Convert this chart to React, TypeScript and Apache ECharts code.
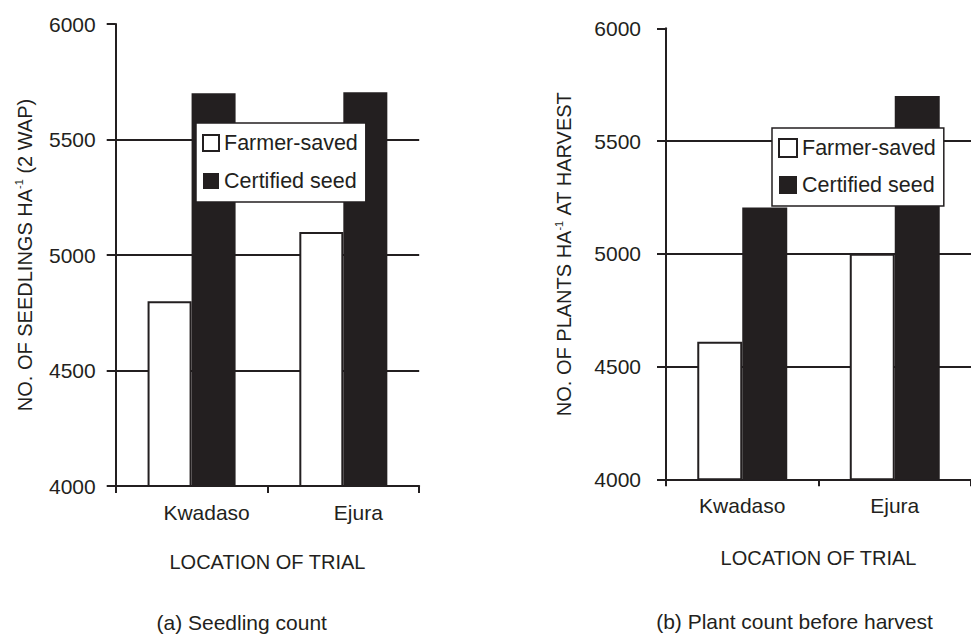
import React, { useEffect, useRef } from "react";
import * as echarts from "echarts";

const locations = ["Kwadaso", "Ejura"];
const seriesNames = ["Farmer-saved", "Certified seed"];
const seedlingFarmer = [4800, 5100];
const seedlingCertified = [5700, 5705];
const harvestFarmer = [4610, 5000];
const harvestCertified = [5205, 5700];
const yMin = 4000;
const yMax = 6000;
const yStep = 500;
const xTitle = "LOCATION OF TRIAL";
const captions = ["(a) Seedling count", "(b) Plant count before harvest"];

const FONT = "'Liberation Sans', Arial, Helvetica, sans-serif";
const INK = "#231f20";

function xAxisCfg(gridIndex: number, nameGap: number, labelPad: number[]) {
  return {
    gridIndex,
    type: "category",
    data: locations,
    axisLine: { show: true, lineStyle: { color: INK, width: 2 } },
    axisTick: { show: true, length: 7, lineStyle: { color: INK, width: 2 } },
    axisLabel: { color: INK, fontSize: 21, fontFamily: FONT, margin: 16, padding: labelPad },
    splitLine: { show: false },
    name: xTitle,
    nameLocation: "middle",
    nameGap,
    nameTextStyle: { color: INK, fontSize: 20, fontFamily: FONT },
  };
}

function yAxisCfg(gridIndex: number, name: string, nameGap: number, labelMargin: number, labelPad: number[]) {
  return {
    gridIndex,
    type: "value",
    min: yMin,
    max: yMax,
    interval: yStep,
    axisLine: { show: true, lineStyle: { color: INK, width: 2 } },
    axisTick: { show: true, length: 9, lineStyle: { color: INK, width: 2 } },
    axisLabel: {
      color: INK,
      fontSize: 21,
      fontFamily: FONT,
      margin: labelMargin,
      padding: labelPad,
      formatter: (v: number) => String(v),
    },
    splitLine: { show: true, showMinLine: false, showMaxLine: false, lineStyle: { color: INK, width: 2 } },
    name,
    nameLocation: "middle",
    nameGap,
    nameRotate: 90,
    nameTextStyle: {
      color: INK,
      fontSize: 20,
      fontFamily: FONT,
      rich: {
        sup: { fontSize: 11, fontFamily: FONT, color: INK, verticalAlign: "top", lineHeight: 22 },
      },
    },
  };
}

function legendCfg(left: number, top: number, size: number, gap: number) {
  return {
    orient: "vertical",
    left,
    top,
    data: seriesNames,
    icon: "rect",
    itemWidth: size,
    itemHeight: size,
    itemGap: gap,
    backgroundColor: "#ffffff",
    borderColor: INK,
    borderWidth: 1.5,
    borderRadius: 0,
    padding: [9, 8, 10, 6],
    textStyle: { color: INK, fontSize: 21.5, fontFamily: FONT },
    z: 10,
  };
}

function barSeries(name: string, data: number[], idx: number, farmer: boolean, catGap: string) {
  return {
    type: "bar",
    name,
    xAxisIndex: idx,
    yAxisIndex: idx,
    data,
    barGap: "0%",
    barCategoryGap: catGap,
    itemStyle: farmer
      ? { color: "#ffffff", borderColor: INK, borderWidth: 2 }
      : { color: INK, borderColor: INK, borderWidth: 0 },
  };
}

export default function App() {
  const ref = useRef<HTMLDivElement>(null);
  useEffect(() => {
    if (!ref.current) return;
    const chart = echarts.init(ref.current, undefined, { renderer: "svg" });
    chart.setOption({
      animation: false,
      backgroundColor: "#ffffff",
      textStyle: { fontFamily: FONT },
      grid: [
        { left: 115.7, top: 24, width: 303.5, height: 462 },
        { left: 666, top: 28.3, width: 316, height: 451 },
      ],
      xAxis: [xAxisCfg(0, 66, [0, 0, 0, 30]), xAxisCfg(1, 69, [0, 0, 0, 0])],
      yAxis: [
        yAxisCfg(0, "NO. OF SEEDLINGS HA{sup|-1} (2 WAP)", 80, 20, [0, 0, 0, 0]),
        yAxisCfg(1, "NO. OF PLANTS HA{sup|-1} AT HARVEST", 91, 25, [0, 0, 6, 0]),
      ],
      legend: [legendCfg(196, 123, 16, 16), legendCfg(772, 128, 18, 15)],
      series: [
        barSeries(seriesNames[0], seedlingFarmer, 0, true, "42%"),
        barSeries(seriesNames[1], seedlingCertified, 0, false, "42%"),
        barSeries(seriesNames[0], harvestFarmer, 1, true, "41%"),
        barSeries(seriesNames[1], harvestCertified, 1, false, "41%"),
      ],
      graphic: [
        {
          type: "text",
          x: 241.7,
          y: 612,
          style: { text: captions[0], align: "center", verticalAlign: "top", fill: INK, fontSize: 21, fontFamily: FONT },
        },
        {
          type: "text",
          x: 794.5,
          y: 611,
          style: { text: captions[1], align: "center", verticalAlign: "top", fill: INK, fontSize: 21, fontFamily: FONT },
        },
      ],
    });
    return () => chart.dispose();
  }, []);
  return (
    <div
      ref={ref}
      style={{ position: "fixed", left: 0, top: 0, width: 971, height: 636, background: "#fff" }}
    />
  );
}
